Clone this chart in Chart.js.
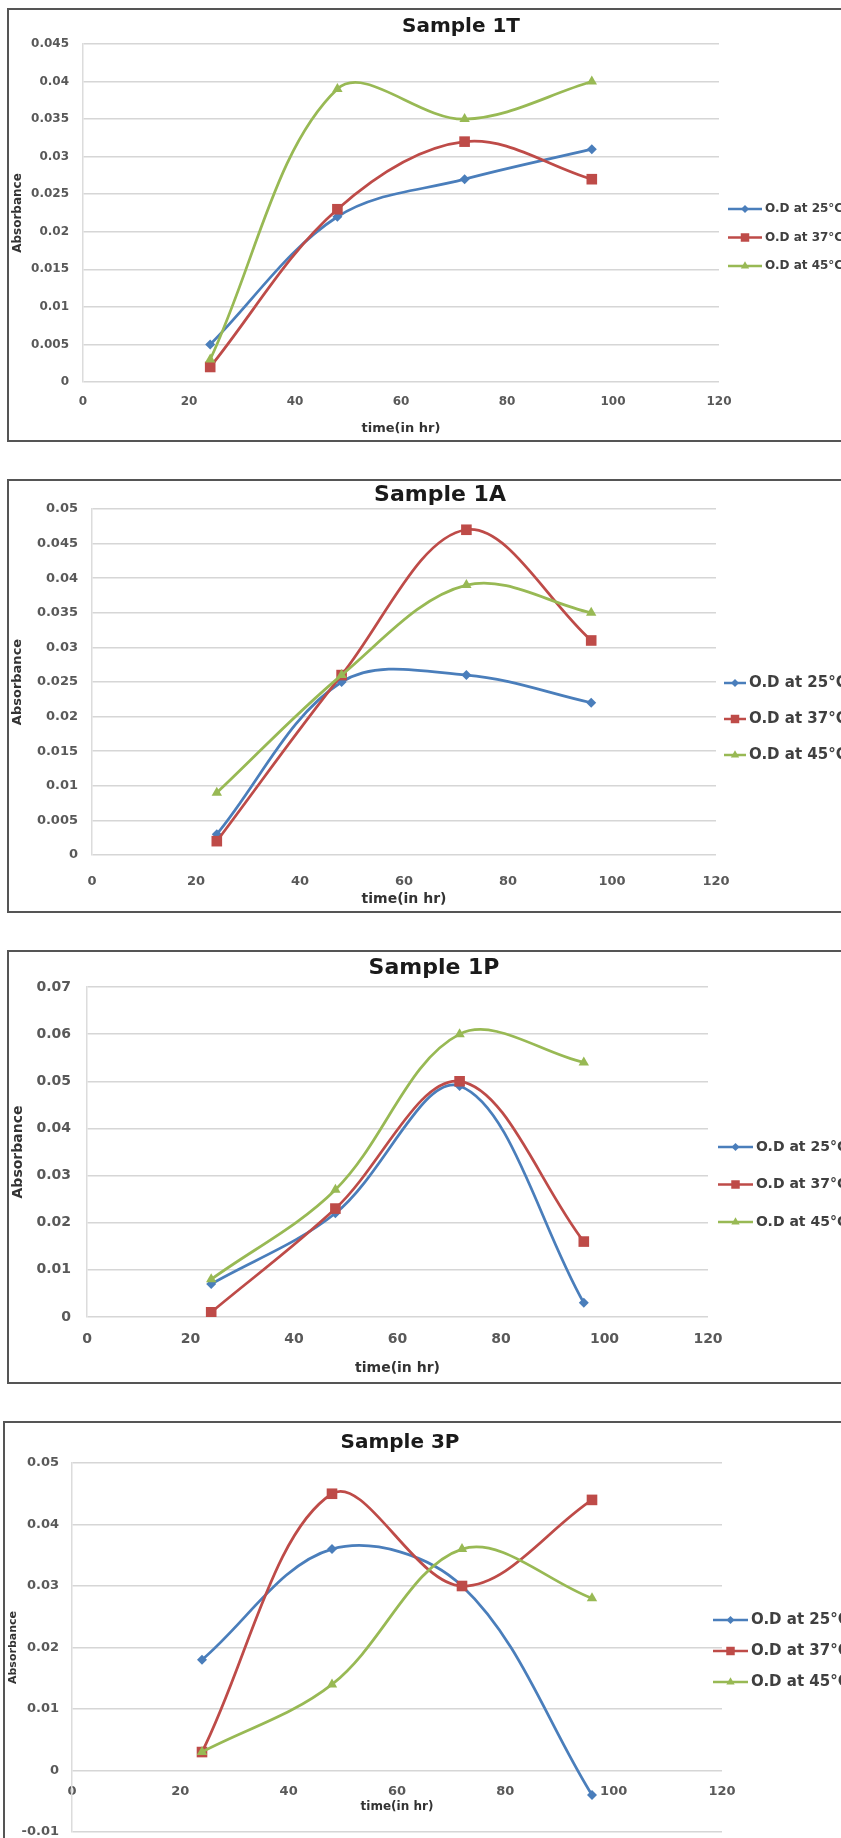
<!DOCTYPE html>
<html>
<head>
<meta charset="utf-8">
<script src="https://cdn.jsdelivr.net/npm/chart.js@4.4.1/dist/chart.umd.min.js"></script>
<style>
  html, body { margin: 0; padding: 0; background: #fff; }
  body { width: 841px; height: 1838px; overflow: hidden; position: relative; }
  .panel { position: absolute; border: 2px solid #555; background: #fff; overflow: hidden; }
  .panel canvas { display: block; }
</style>
</head>
<body>
<div class="panel" style="left:7px;top:8px;width:880px;height:430px"><canvas id="c1T" width="880" height="430"></canvas></div>
<div class="panel" style="left:7px;top:479px;width:880px;height:430px"><canvas id="c1A" width="880" height="430"></canvas></div>
<div class="panel" style="left:7px;top:950px;width:880px;height:430px"><canvas id="c1P" width="880" height="430"></canvas></div>
<div class="panel" style="left:3px;top:1421px;width:880px;height:440px"><canvas id="c3P" width="880" height="440"></canvas></div>

<script>
// time points (hours) shared by every sample
var hours = [24, 48, 72, 96];
var seriesNames = ['O.D at 25°C', 'O.D at 37°C', 'O.D at 45°C'];

// Sample 1T
var s1T_25 = [0.005, 0.022, 0.027, 0.031];
var s1T_37 = [0.002, 0.023, 0.032, 0.027];
var s1T_45 = [0.003, 0.039, 0.035, 0.040];
var y1T = [0, 0.045, 0.005];   // min, max, step

// Sample 1A
var s1A_25 = [0.003, 0.025, 0.026, 0.022];
var s1A_37 = [0.002, 0.026, 0.047, 0.031];
var s1A_45 = [0.009, 0.026, 0.039, 0.035];
var y1A = [0, 0.05, 0.005];

// Sample 1P
var s1P_25 = [0.007, 0.022, 0.049, 0.003];
var s1P_37 = [0.001, 0.023, 0.050, 0.016];
var s1P_45 = [0.008, 0.027, 0.060, 0.054];
var y1P = [0, 0.07, 0.01];

// Sample 3P
var s3P_25 = [0.018, 0.036, 0.030, -0.004];
var s3P_37 = [0.003, 0.045, 0.030, 0.044];
var s3P_45 = [0.003, 0.014, 0.036, 0.028];
var y3P = [-0.01, 0.05, 0.01];

var xTicks = [0, 120, 20];

var FONT = '"DejaVu Sans", "Liberation Sans", sans-serif';
var colors = ['#4A7EBB', '#BE4B48', '#98B954'];
var markers = ['rectRot', 'rect', 'triangle'];
var markerSize = [5, 7.5, 6];

function drawMarker(ctx, style, x, y, r, color) {
  ctx.beginPath();
  if (style === 'rectRot') {
    ctx.moveTo(x, y - r); ctx.lineTo(x + r, y); ctx.lineTo(x, y + r); ctx.lineTo(x - r, y);
  } else if (style === 'rect') {
    var s = r * Math.SQRT1_2;
    ctx.rect(x - s, y - s, 2 * s, 2 * s);
  } else {
    ctx.moveTo(x, y - r); ctx.lineTo(x + r * 0.866, y + r * 0.5); ctx.lineTo(x - r * 0.866, y + r * 0.5);
  }
  ctx.closePath();
  ctx.fillStyle = color;
  ctx.fill();
}

// title + side legend, placed like the Excel sheet
var sheetDecor = {
  id: 'sheetDecor',
  afterDraw: function (chart, args, opts) {
    var ctx = chart.ctx;
    ctx.save();
    ctx.fillStyle = '#1a1a1a';
    ctx.font = 'bold ' + opts.titleSize + 'px ' + FONT;
    ctx.textAlign = 'center';
    ctx.textBaseline = 'middle';
    ctx.fillText(opts.title, opts.titleX, opts.titleY);

    var lg = opts.legend;
    ctx.font = 'bold ' + lg.size + 'px ' + FONT;
    ctx.textAlign = 'left';
    chart.data.datasets.forEach(function (ds, i) {
      var y = lg.y + i * lg.gap;
      ctx.strokeStyle = ds.borderColor;
      ctx.lineWidth = 2.5;
      ctx.beginPath();
      ctx.moveTo(lg.x, y);
      ctx.lineTo(lg.x + lg.line, y);
      ctx.stroke();
      drawMarker(ctx, markers[i], lg.x + lg.line / 2, y, markerSize[i] * 0.8, ds.borderColor);
      ctx.fillStyle = '#404040';
      ctx.fillText(ds.label, lg.x + lg.line + 3, y);
    });
    ctx.restore();
  }
};

function makeChart(id, title, values, yRange, L) {
  var W = 880;
  var H = document.getElementById(id).height;
  var timeLH = L.timeFont * 1.2;
  var zeroLine = L.axisAtZero ? L.zeroY : L.plot[3];
  var xH = L.timeY - zeroLine + timeLH / 2;
  var padBottom = L.axisAtZero ? H - L.plot[3] : H - L.plot[3] - xH;

  var datasets = values.map(function (vals, i) {
    return {
      label: seriesNames[i],
      data: hours.map(function (h, k) { return { x: h, y: vals[k] }; }),
      borderColor: colors[i],
      backgroundColor: colors[i],
      borderWidth: 2.75,
      pointStyle: markers[i],
      pointRadius: markerSize[i],
      pointBorderWidth: 0,
      tension: 0.35,
      order: 3 - i
    };
  });

  return new Chart(document.getElementById(id), {
    type: 'line',
    data: { datasets: datasets },
    plugins: [sheetDecor],
    options: {
      responsive: false,
      animation: false,
      layout: { padding: { left: 0, right: W - L.plot[1], top: L.plot[2], bottom: padBottom } },
      scales: {
        x: {
          type: 'linear',
          position: L.axisAtZero ? { y: 0 } : 'bottom',
          min: xTicks[0], max: xTicks[1],
          ticks: { stepSize: xTicks[2], padding: L.xPad, color: '#595959', maxRotation: 0,
                   font: { family: FONT, size: L.tick, weight: 'bold' } },
          grid: { display: false, drawTicks: false },
          border: { display: false },
          title: { display: true, text: 'time(in hr)', color: '#333', padding: { top: 0, bottom: 0 },
                   font: { family: FONT, size: L.timeFont, weight: 'bold' } },
          afterFit: function (s) { s.height = xH; }
        },
        y: {
          min: yRange[0], max: yRange[1],
          ticks: { stepSize: yRange[2], padding: L.yPad, color: '#595959',
                   font: { family: FONT, size: L.tick, weight: 'bold' },
                   callback: function (v) { return String(parseFloat(v.toFixed(4))); } },
          grid: { color: '#d6d6d6', lineWidth: 1.5, drawTicks: false },
          border: { display: true, color: '#dcdcdc', width: 1.5 },
          title: { display: true, text: 'Absorbance', color: '#333', padding: { top: L.absPad, bottom: 0 },
                   font: { family: FONT, size: L.absFont, weight: 'bold' } },
          afterFit: function (s) { s.width = L.plot[0]; }
        }
      },
      plugins: {
        legend: { display: false },
        tooltip: { enabled: false },
        sheetDecor: {
          title: title, titleX: L.titleX, titleY: L.titleY, titleSize: L.titleSize,
          legend: L.legend
        }
      }
    }
  });
}

makeChart('c1T', 'Sample 1T', [s1T_25, s1T_37, s1T_45], y1T, {
  plot: [74, 710, 34, 372], tick: 12, xPad: 13, yPad: 14, timeFont: 13, timeY: 419,
  absFont: 12, absPad: 2, titleX: 452, titleY: 17, titleSize: 20,
  legend: { x: 719, y: 199, gap: 28.5, line: 34, size: 12 }
});

makeChart('c1A', 'Sample 1A', [s1A_25, s1A_37, s1A_45], y1A, {
  plot: [83, 707, 28, 374], tick: 13, xPad: 19, yPad: 14, timeFont: 14, timeY: 418,
  absFont: 13, absPad: 1, titleX: 431, titleY: 14, titleSize: 22,
  legend: { x: 715, y: 202, gap: 36, line: 22, size: 15 }
});

makeChart('c1P', 'Sample 1P', [s1P_25, s1P_37, s1P_45], y1P, {
  plot: [78, 699, 35, 365], tick: 14, xPad: 14, yPad: 16, timeFont: 14, timeY: 416,
  absFont: 14, absPad: 1, titleX: 425, titleY: 16, titleSize: 22,
  legend: { x: 709, y: 195, gap: 37.5, line: 35, size: 14 }
});

makeChart('c3P', 'Sample 3P', [s3P_25, s3P_37, s3P_45], y3P, {
  plot: [67, 717, 40, 409], tick: 13, xPad: 13, yPad: 13, timeFont: 12, timeY: 385,
  axisAtZero: true, zeroY: 349,
  absFont: 11, absPad: 2, titleX: 395, titleY: 20, titleSize: 20,
  legend: { x: 708, y: 197, gap: 31, line: 35, size: 15 }
});
</script>
</body>
</html>
